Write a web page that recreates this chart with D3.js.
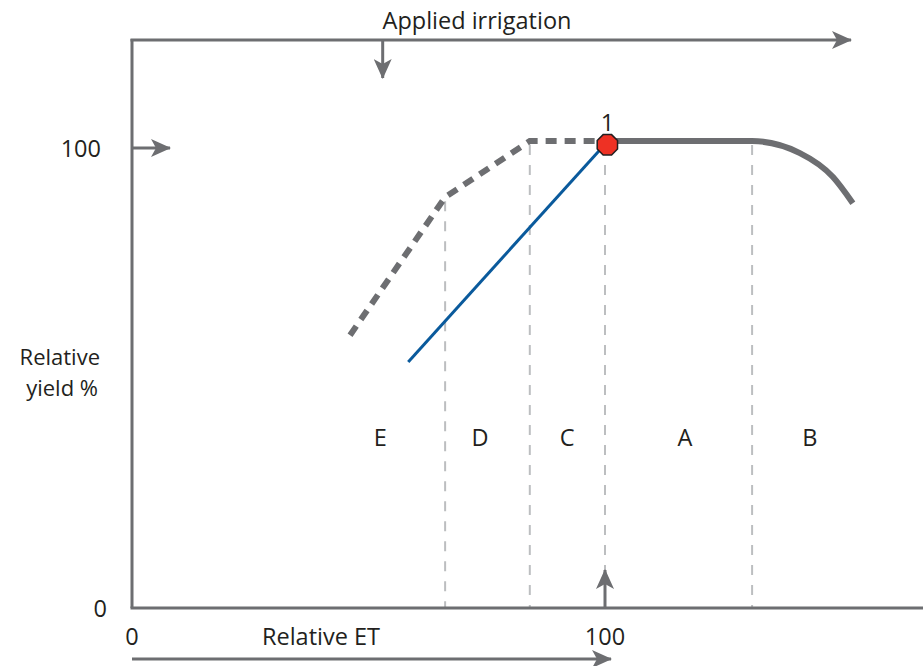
<!DOCTYPE html>
<html><head><meta charset="utf-8">
<script src="https://cdn.jsdelivr.net/npm/d3@7"></script>
<style>body{margin:0;background:#fff}svg{display:block}text{font-family:"Open Sans","Noto Sans",sans-serif;fill:#231f20}</style>
</head><body><svg id="c" width="923" height="666"></svg>
<script>
// Data (relative ET %, relative yield %)
const etCurve = [[46.1,59.3],[66.2,89.3],[84.1,101.5],[100,101.5]];          // dashed curve
const irrCurve = [[100,101.5],[131.1,101.5],[141.2,98.9],[148.2,93.7],[152.4,88]]; // solid curve
const linear = [[58.4,53.5],[100,100.8]];                                    // blue line
const point1 = {x:100.5, y:100.7, label:"1"};
const zoneBounds = [66.2, 84.1, 100, 131.1];
const zoneLabels = [{t:"E",x:52.5},{t:"D",x:73.6},{t:"C",x:92},{t:"A",x:116.9},{t:"B",x:143.3}];
const zoneLabelY = 37;
const xTicks = [0,100];
const yTicks = [0,100];

const svg = d3.select("#c");
const x = d3.scaleLinear().domain([0,100]).range([132,605]);
const y = d3.scaleLinear().domain([0,100]).range([608,148]);
const gray = "#6d6e71";
const FS = 23.5;

const defs = svg.append("defs");
defs.append("marker").attr("id","ah").attr("viewBox","0 0 20 18").attr("refX",19).attr("refY",9)
  .attr("markerWidth",20).attr("markerHeight",18).attr("markerUnits","userSpaceOnUse").attr("orient","auto")
  .append("path").attr("d","M0,0 L20,9 L0,18 L5,9 Z").attr("fill",gray);
function arrow(x1,y1,x2,y2,w){
  svg.append("line").attr("x1",x1).attr("y1",y1).attr("x2",x2).attr("y2",y2)
    .attr("stroke",gray).attr("stroke-width",w||3).attr("marker-end","url(#ah)");
}

// zone dashed gridlines
const zoneTop = {66.2:89.3, 84.1:101.5, 100:101.5, 131.1:101.5};
svg.selectAll("line.z").data(zoneBounds).join("line")
  .attr("x1",d=>x(d)).attr("x2",d=>x(d))
  .attr("y1",d=>y(zoneTop[d])+4).attr("y2",d=> d===100? y(0)-36 : y(0))
  .attr("stroke","#bcbec0").attr("stroke-width",2).attr("stroke-dasharray","10,10");

// frame
svg.append("line").attr("x1",132).attr("x2",132).attr("y1",39).attr("y2",y(0)).attr("stroke",gray).attr("stroke-width",3);
svg.append("line").attr("x1",130.5).attr("x2",923).attr("y1",y(0)).attr("y2",y(0)).attr("stroke",gray).attr("stroke-width",3);
arrow(130.5,40,851,40);
arrow(x(53),40,x(53),78);
arrow(132,148,170,148);
arrow(x(100),y(0),x(100),570);
arrow(132,659,611,659);

const line = d3.line().x(d=>x(d[0])).y(d=>y(d[1]));
svg.append("path").attr("d",line(etCurve)).attr("fill","none").attr("stroke",gray)
  .attr("stroke-width",6).attr("stroke-dasharray","11,8");
svg.append("path").attr("d",d3.line().x(d=>x(d[0])).y(d=>y(d[1])).curve(d3.curveMonotoneX)(irrCurve))
  .attr("fill","none").attr("stroke",gray).attr("stroke-width",6);
svg.append("path").attr("d",line(linear)).attr("fill","none").attr("stroke","#0a5a9c").attr("stroke-width",3);

// octagon point
const r = 11;
const oct = d3.range(8).map(i=>{const a=Math.PI/8+i*Math.PI/4;return [x(point1.x)+r*Math.cos(a), y(point1.y)+r*Math.sin(a)];});
svg.append("polygon").attr("points",oct.map(p=>p.join(",")).join(" ")).attr("fill","#ee3124").attr("stroke","#231f20").attr("stroke-width",1.5);
svg.append("text").attr("x",x(point1.x)).attr("y",y(point1.y)-14).attr("text-anchor","middle").attr("font-size",FS).text(point1.label);

svg.selectAll("text.zl").data(zoneLabels).join("text").attr("x",d=>x(d.x)).attr("y",y(zoneLabelY)+8.5)
  .attr("text-anchor","middle").attr("font-size",FS).text(d=>d.t);

svg.selectAll("text.xt").data(xTicks).join("text").attr("x",d=>x(d)).attr("y",645).attr("text-anchor","middle").attr("font-size",FS).text(d=>d);
svg.selectAll("text.yt").data(yTicks).join("text").attr("x",d=>d===0?107:101).attr("y",d=>y(d)+9).attr("text-anchor","end").attr("font-size",FS).text(d=>d);

svg.append("text").attr("x",477).attr("y",29).attr("text-anchor","middle").attr("font-size",FS).text("Applied irrigation");
svg.append("text").attr("x",321).attr("y",645).attr("text-anchor","middle").attr("font-size",FS).text("Relative ET");
svg.append("text").attr("x",100).attr("y",365).attr("text-anchor","end").attr("font-size",22).text("Relative");
svg.append("text").attr("x",98).attr("y",396).attr("text-anchor","end").attr("font-size",22).text("yield %");
</script></body></html>
